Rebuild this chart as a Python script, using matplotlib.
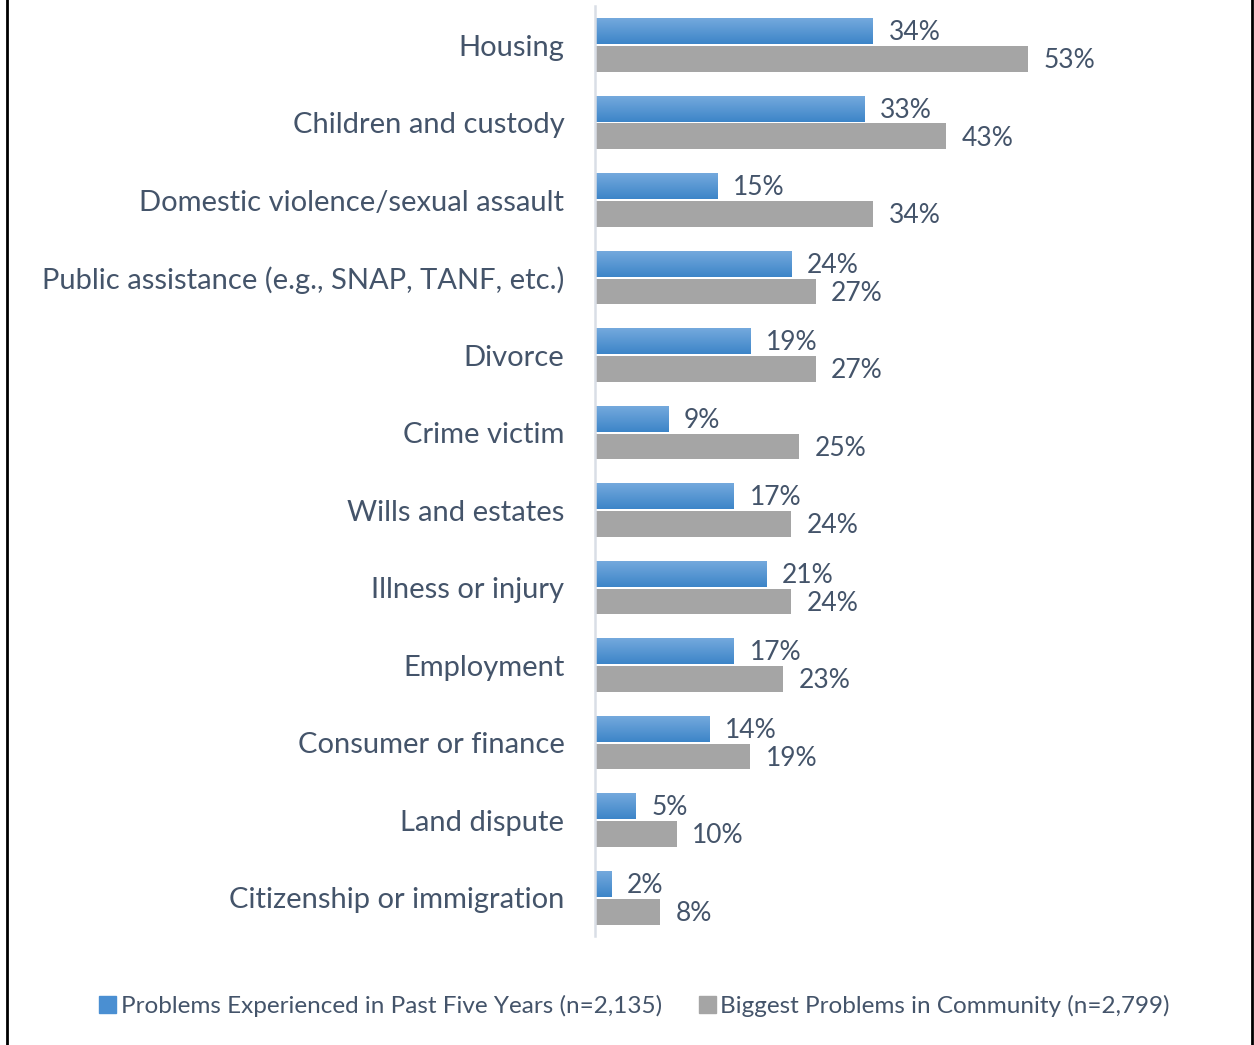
import matplotlib.pyplot as plt
import numpy as np
from matplotlib.lines import Line2D
from matplotlib.patches import Rectangle

categories = [
    "Housing",
    "Children and custody",
    "Domestic violence/sexual assault",
    "Public assistance (e.g., SNAP, TANF, etc.)",
    "Divorce",
    "Crime victim",
    "Wills and estates",
    "Illness or injury",
    "Employment",
    "Consumer or finance",
    "Land dispute",
    "Citizenship or immigration",
]
past_five_years = [34, 33, 15, 24, 19, 9, 17, 21, 17, 14, 5, 2]
community = [53, 43, 34, 27, 27, 25, 24, 24, 23, 19, 10, 8]
series_names = [
    "Problems Experienced in Past Five Years (n=2,135)",
    "Biggest Problems in Community (n=2,799)",
]

text_color = "#44546A"
gray = "#A5A5A5"
plt.rcParams["font.family"] = ["Lato", "DejaVu Sans"]

fig = plt.figure(figsize=(12.54, 10.45), dpi=100)
ax = fig.add_axes([0.4745, 0.104, 0.391, 0.890])

y = np.arange(len(categories))
h = 0.335
off = 0.18

# vertical gradient used to fill the blue bars
grad = np.linspace(0, 1, 64).reshape(-1, 1)
blue_cmap = plt.matplotlib.colors.LinearSegmentedColormap.from_list(
    "bar_blue", ["#74A9DD", "#3D85C8"])

for yi, v in zip(y, past_five_years):
    y0, y1 = yi - off - h / 2, yi - off + h / 2
    ax.imshow(grad, cmap=blue_cmap, extent=[0, v, y1, y0], aspect="auto",
              interpolation="bicubic", zorder=2)
    ax.text(v + 1.9, yi - off + 0.02, f"{v}%", va="center", ha="left",
            fontsize=19, color=text_color)

ax.barh(y + off, community, height=h, color=gray, zorder=2)
for yi, v in zip(y, community):
    ax.text(v + 1.9, yi + off + 0.02, f"{v}%", va="center", ha="left",
            fontsize=19, color=text_color)

ax.set_xlim(0, 60)
ax.set_ylim(len(categories) - 0.5, -0.5)
ax.set_yticks(y)
ax.set_yticklabels(categories, fontsize=21, color=text_color)
ax.tick_params(axis="y", length=0, pad=22)
ax.set_xticks([])
for side in ["top", "right", "bottom"]:
    ax.spines[side].set_visible(False)
ax.spines["left"].set_color("#D9DEE6")
ax.spines["left"].set_linewidth(1.8)

handles = [Rectangle((0, 0), 1, 1, color="#4A8FD2"),
           Rectangle((0, 0), 1, 1, color=gray)]
fig.legend(handles, series_names, loc="center", bbox_to_anchor=(0.506, 0.037),
           ncol=2, frameon=False, fontsize=17.5, labelcolor=text_color,
           handlelength=0.7, handleheight=0.7, handletextpad=0.2,
           columnspacing=1.5)

# frame lines on both sides
fig.add_artist(Line2D([0.0055, 0.0055], [0, 1], color="black", lw=2))
fig.add_artist(Line2D([0.9985, 0.9985], [0, 1], color="black", lw=2))

fig.savefig("out.png", dpi=100)
